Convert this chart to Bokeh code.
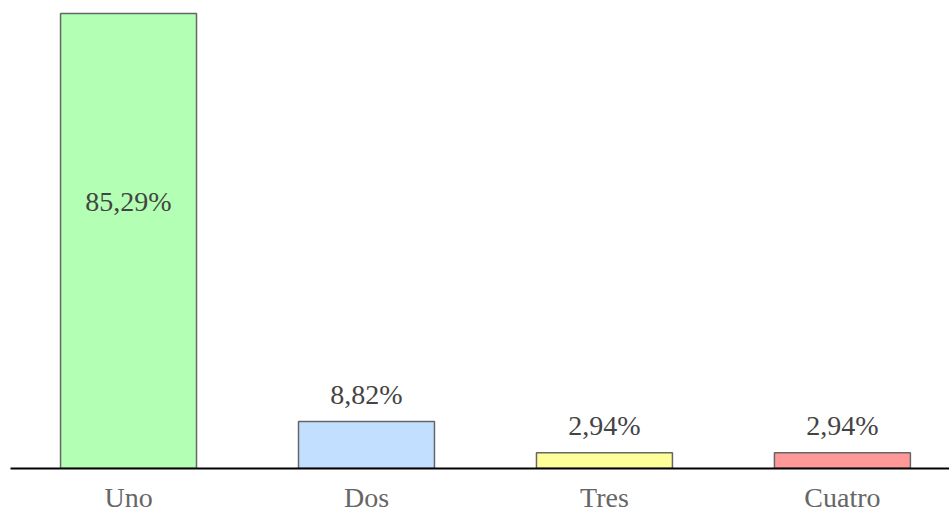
from bokeh.plotting import figure
from bokeh.models import ColumnDataSource, FixedTicker, Range1d
from bokeh.core.properties import value
from bokeh.embed import file_html
from bokeh.resources import INLINE

categories = ["Uno", "Dos", "Tres", "Cuatro"]
values = [85.29, 8.82, 2.94, 2.94]
labels = ["85,29%", "8,82%", "2,94%", "2,94%"]
colors = ["#b3ffb3", "#c2dfff", "#ffff99", "#ff9999"]

FONT = "'Liberation Serif', 'Times New Roman', serif"

xs = list(range(len(categories)))
inside = [v > 50 for v in values]
label_offsets = [188 if ins else -27 for ins in inside]
label_colors = ["#444444"] * len(values)

src = ColumnDataSource(dict(x=xs, top=values, color=colors, label=labels,
                            yoff=label_offsets, lc=label_colors))

p = figure(width=949, height=515, output_backend="svg", toolbar_location=None,
           x_range=Range1d(-0.496, 3.45), y_range=Range1d(0, 87.73),
           min_border_left=10, min_border_right=0, min_border_top=0, min_border_bottom=0)
p.background_fill_color = "white"
p.border_fill_color = "white"
p.outline_line_color = None
p.grid.visible = False
p.yaxis.visible = False

p.vbar(x="x", top="top", bottom=0, width=0.5714, source=src, fill_color="color",
       line_color="#666666", line_width=1.5)

p.text(x="x", y="top", text="label", y_offset="yoff", source=src,
       text_align="center", text_baseline="middle", text_color="lc",
       text_font=value(FONT), text_font_size="28px")

ax = p.xaxis[0]
ax.ticker = FixedTicker(ticks=xs)
ax.major_label_overrides = {i: c for i, c in zip(xs, categories)}
ax.axis_line_color = "black"
ax.axis_line_width = 2
ax.major_tick_line_color = None
ax.minor_tick_line_color = None
ax.major_tick_out = 0
ax.major_tick_in = 0
ax.major_label_standoff = 13
ax.major_label_text_font = FONT
ax.major_label_text_font_size = "28px"
ax.major_label_text_color = "#666666"

open("out.html", "w").write(file_html(p, INLINE))
